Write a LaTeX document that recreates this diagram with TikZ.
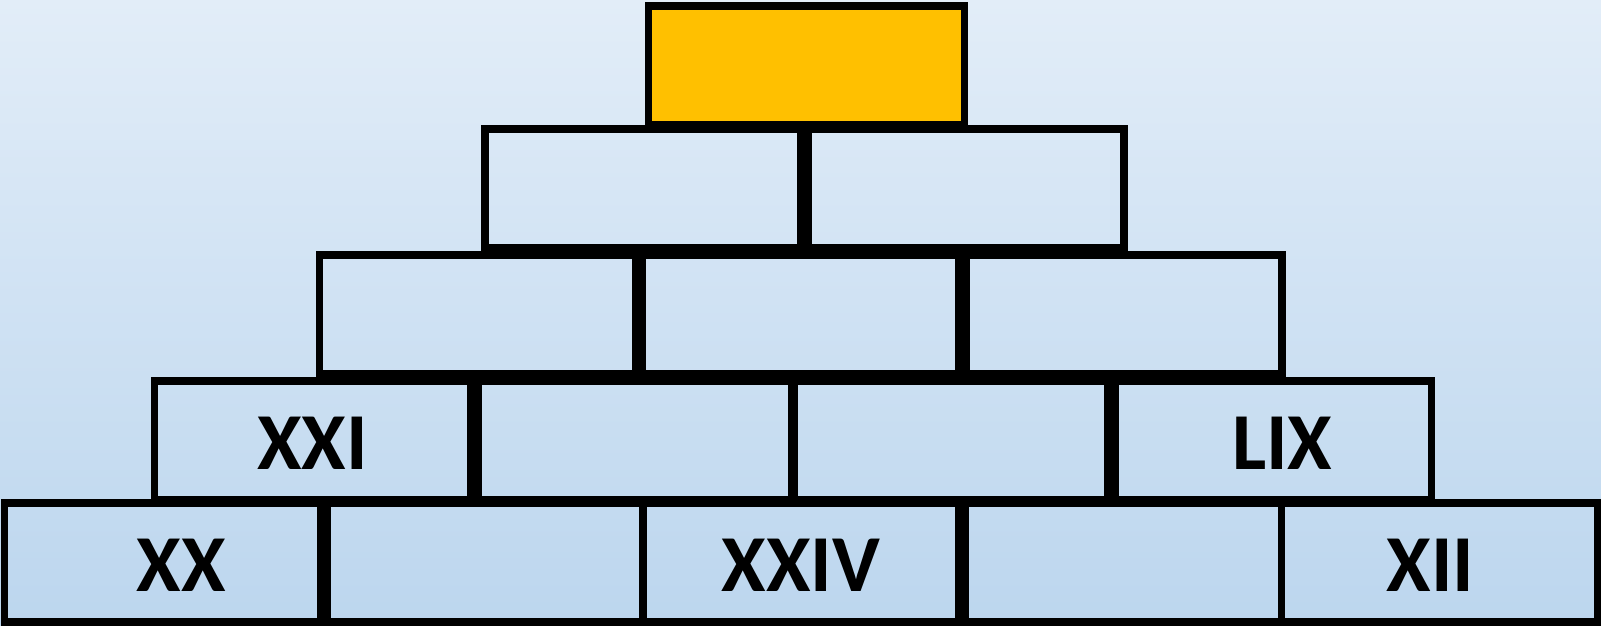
\documentclass[tikz,border=0pt]{standalone}
\usepackage{fontspec}
\setmainfont{Carlito}
\usetikzlibrary{positioning}
\definecolor{skytop}{HTML}{E2EDF8}
\definecolor{skybottom}{HTML}{BCD6EE}
\definecolor{capgold}{HTML}{FFC000}

\begin{document}
\begin{tikzpicture}[
  font=\bfseries\fontsize{23}{23}\selectfont,
  brick/.style={draw=black, line width=0.75mm, outer sep=0pt, inner sep=0pt,
    minimum width=31.6mm, minimum height=11.9mm, text height=5.8mm,
    text depth=0pt, align=center},
  capbrick/.style={brick, fill=capgold},
]
  \shade[top color=skytop, bottom color=skybottom] (0,0) rectangle (160.1mm,-62.6mm);
  \useasboundingbox (0,0) rectangle (160.1mm,-62.6mm);

  % top stone
  \node[capbrick] (apex) at (80.65mm,-6.55mm) {};

  % second row
  \node[brick, below=0.4mm of apex, xshift=-16.35mm] (r2-a) {};
  \node[brick, right=0.7mm of r2-a] (r2-b) {};

  % third row
  \node[brick, below=0.7mm of r2-a, xshift=-16.57mm] (r3-a) {};
  \node[brick, right=0.7mm of r3-a] (r3-b) {};
  \node[brick, right=0.75mm of r3-b] (r3-c) {};

  % fourth row
  \node[brick, below=0.7mm of r3-a, xshift=-16.5mm] (r4-a) {XXI};
  \node[brick, right=0.75mm of r4-a] (r4-b) {};
  \node[brick, right=-0.2mm of r4-b] (r4-c) {};
  \node[brick, right=0.75mm of r4-c] (r4-d) {\hspace*{1.8mm}LIX};

  % base row
  \node[brick, below=0.3mm of r4-a, xshift=-15mm] (r5-a) {\hspace*{3.8mm}XX};
  \node[brick, right=0.65mm of r5-a] (r5-b) {};
  \node[brick, right=0mm of r5-b] (r5-c) {XXIV};
  \node[brick, right=0.65mm of r5-c] (r5-d) {};
  \node[brick, right=0mm of r5-d] (r5-e) {XII\hspace*{1.8mm}};
\end{tikzpicture}
\end{document}
